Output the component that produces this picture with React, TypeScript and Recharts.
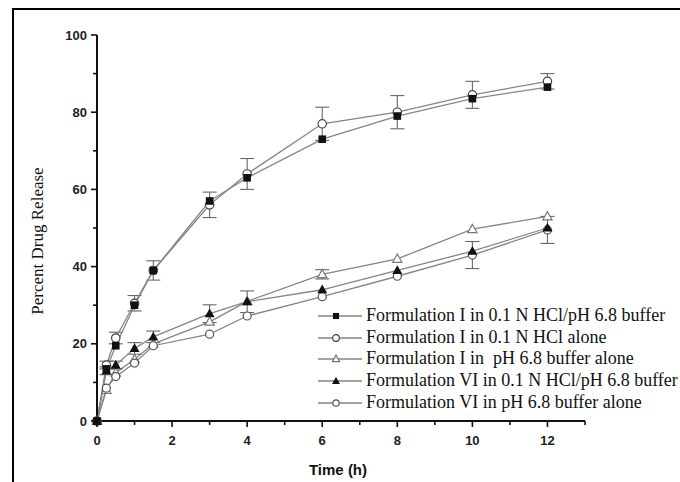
import React from 'react';
import { LineChart, Line, XAxis, YAxis, ErrorBar } from 'recharts';

// sampling times (h)
const TIME = [0, 0.25, 0.5, 1, 1.5, 3, 4, 6, 8, 10, 12];

// percent released per formulation / medium
const F1_ACID_BUFFER = [0, 13.5, 19.5, 30, 39, 57, 63, 73, 79, 83.5, 86.5];
const F1_ACID = [0, 14.5, 21.5, 30.5, 39, 56, 64, 77, 80, 84.5, 88];
const F1_BUFFER = [0, 8, 12.5, 16, 20, 25.7, 31, 38, 42, 49.7, 53];
const F6_ACID_BUFFER = [0, 13, 14.5, 18.8, 21.8, 27.8, 30.9, 34, 39, 44, 50];
const F6_BUFFER = [0, 8.5, 11.5, 15, 19.5, 22.5, 27.2, 32.2, 37.5, 43, 49.5];

// standard deviations (0 = no bar drawn)
const F1_ACID_SD = [0, 1, 1.5, 2, 2.5, 3.3, 4, 4.3, 4.3, 3.5, 2];
const F1_BUFFER_SD = [0, 0, 0, 0, 0, 0, 0, 1.2, 0, 0, 0];
const F6_ACID_BUFFER_SD = [0, 1, 1, 1.5, 1.5, 2.3, 2.8, 0, 0, 0, 0];
const F6_BUFFER_SD = [0, 0, 0, 0, 0, 0, 0, 0, 0, 3.5, 3.5];

const X_TICKS = [0, 1, 2, 3, 4, 5, 6, 7, 8, 9, 10, 11, 12, 13];
const Y_TICKS = [0, 10, 20, 30, 40, 50, 60, 70, 80, 90, 100];

type Marker = 'square' | 'circle' | 'triangle' | 'triangleFilled' | 'circleSmall';

const SERIES: { key: string; name: string; values: number[]; sd: number[]; marker: Marker }[] = [
  { key: 'f1AcidBuffer', name: 'Formulation I in 0.1 N HCl/pH 6.8 buffer', values: F1_ACID_BUFFER, sd: [], marker: 'square' },
  { key: 'f1Acid', name: 'Formulation I in 0.1 N HCl alone', values: F1_ACID, sd: F1_ACID_SD, marker: 'circle' },
  { key: 'f1Buffer', name: 'Formulation I in  pH 6.8 buffer alone', values: F1_BUFFER, sd: F1_BUFFER_SD, marker: 'triangle' },
  { key: 'f6AcidBuffer', name: 'Formulation VI in 0.1 N HCl/pH 6.8 buffer', values: F6_ACID_BUFFER, sd: F6_ACID_BUFFER_SD, marker: 'triangleFilled' },
  { key: 'f6Buffer', name: 'Formulation VI in pH 6.8 buffer alone', values: F6_BUFFER, sd: F6_BUFFER_SD, marker: 'circleSmall' },
];

// open markers underneath, filled ones on top
const DRAW_ORDER = ['f1Buffer', 'f6Buffer', 'f1Acid', 'f6AcidBuffer', 'f1AcidBuffer'];

const data = TIME.map((t, i) => {
  const row: Record<string, number> = { t };
  SERIES.forEach((s) => {
    row[s.key] = s.values[i];
    if (s.sd.length) row[s.key + 'Sd'] = s.sd[i];
  });
  return row;
});

const LINE_COLOR = '#858585';

const drawMarker = (marker: Marker, cx: number, cy: number, key?: string, k = 1) => {
  switch (marker) {
    case 'square':
      return <rect key={key} x={cx - 3.8 * k} y={cy - 3.8 * k} width={7.6 * k} height={7.6 * k} fill="#111" />;
    case 'circle':
      return <circle key={key} cx={cx} cy={cy} r={4.2 * k} fill="#fff" stroke="#444" strokeWidth={1.2} />;
    case 'circleSmall':
      return <circle key={key} cx={cx} cy={cy} r={4 * k} fill="#fff" stroke="#555" strokeWidth={1.2} />;
    case 'triangle':
      return (
        <polygon key={key} points={`${cx},${cy - 4.8 * k} ${cx - 4.6 * k},${cy + 3.4 * k} ${cx + 4.6 * k},${cy + 3.4 * k}`}
          fill="#fff" stroke="#777" strokeWidth={1.2} />
      );
    case 'triangleFilled':
      return (
        <polygon key={key} points={`${cx},${cy - 5.2 * k} ${cx - 5 * k},${cy + 3.6 * k} ${cx + 5 * k},${cy + 3.6 * k}`} fill="#111" />
      );
  }
};

const XTick = ({ x, y, payload }: any) => {
  const major = payload.value % 2 === 0;
  return (
    <g>
      <line x1={x} x2={x} y1={y} y2={y + (major ? 6 : 4)} stroke="#111" strokeWidth={1.6} />
      {major && (
        <text x={x} y={y + 24} textAnchor="middle" fontSize={13} fontWeight={700}
          fontFamily="'Liberation Sans', Arial, sans-serif" fill="#222">
          {payload.value}
        </text>
      )}
    </g>
  );
};

const YTick = ({ x, y, payload }: any) => {
  const major = payload.value % 20 === 0;
  return (
    <g>
      <line x1={x} x2={x - (major ? 6 : 4)} y1={y} y2={y} stroke="#111" strokeWidth={1.6} />
      {major && (
        <text x={x - 10} y={y + 4.5} textAnchor="end" fontSize={13} fontWeight={700}
          fontFamily="'Liberation Sans', Arial, sans-serif" fill="#222">
          {payload.value}
        </text>
      )}
    </g>
  );
};

const ReleaseLegend = () => (
  <div style={{ position: 'absolute', left: 318, top: 305, fontFamily: "'Liberation Serif', 'Times New Roman', serif",
    fontSize: 18, color: '#111', lineHeight: '21.7px' }}>
    {SERIES.map((s) => (
      <div key={s.key} style={{ display: 'flex', alignItems: 'center', whiteSpace: 'pre' }}>
        <svg width={44} height={12} style={{ display: 'block' }}>
          <line x1={0} x2={44} y1={6} y2={6} stroke={LINE_COLOR} strokeWidth={1.3} />
          {drawMarker(s.marker, 18, 6, undefined, 0.8)}
        </svg>
        <span style={{ marginLeft: 4 }}>{s.name}</span>
      </div>
    ))}
  </div>
);

export default function App() {
  return (
    <div style={{ position: 'absolute', left: 0, top: 0, width: 680, height: 482, overflow: 'hidden', background: '#fff' }}>
      <div style={{ position: 'absolute', left: 12, top: 8, width: 700, height: 500,
        borderLeft: '2.5px solid #000', borderTop: '2.5px solid #000' }} />
      <div style={{ position: 'absolute', left: 0, top: 0 }}>
        <LineChart width={680} height={482} data={data} margin={{ top: 35, right: 95, left: 0, bottom: 31 }}>
          <XAxis
            dataKey="t"
            type="number"
            domain={[0, 13]}
            ticks={X_TICKS}
            interval={0}
            height={30}
            tickSize={0}
            tickMargin={0}
            tickLine={false}
            axisLine={{ stroke: '#111', strokeWidth: 2 }}
            tick={<XTick />}
            label={({ viewBox }: any) => (
              <text x={viewBox.x + viewBox.width / 2 - 3} y={475} textAnchor="middle" fontSize={15} fontWeight={700}
                fontFamily="'Liberation Sans', Arial, sans-serif" fill="#111">
                Time (h)
              </text>
            )}
          />
          <YAxis
            type="number"
            domain={[0, 100]}
            ticks={Y_TICKS}
            interval={0}
            width={97}
            tickSize={0}
            tickMargin={0}
            tickLine={false}
            axisLine={{ stroke: '#111', strokeWidth: 2 }}
            tick={<YTick />}
            label={() => (
              <text x={43} y={241} transform="rotate(-90, 43, 241)" textAnchor="middle" fontSize={17}
                fontFamily="'Liberation Serif', 'Times New Roman', serif" fill="#111">
                Percent Drug Release
              </text>
            )}
          />
          {DRAW_ORDER.map((k) => {
            const s = SERIES.find((x) => x.key === k)!;
            return (
              <Line
                key={s.key}
                type="linear"
                dataKey={s.key}
                name={s.name}
                stroke={LINE_COLOR}
                strokeWidth={1.3}
                isAnimationActive={false}
                activeDot={false}
                dot={(p: any) => drawMarker(s.marker, p.cx, p.cy, `${s.key}-${p.index}`)}
              >
                {s.sd.length > 0 && (
                  <ErrorBar dataKey={s.key + 'Sd'} direction="y" width={7} stroke="#666" strokeWidth={1.1}
                    isAnimationActive={false} />
                )}
              </Line>
            );
          })}
        </LineChart>
      </div>
      <ReleaseLegend />
    </div>
  );
}
